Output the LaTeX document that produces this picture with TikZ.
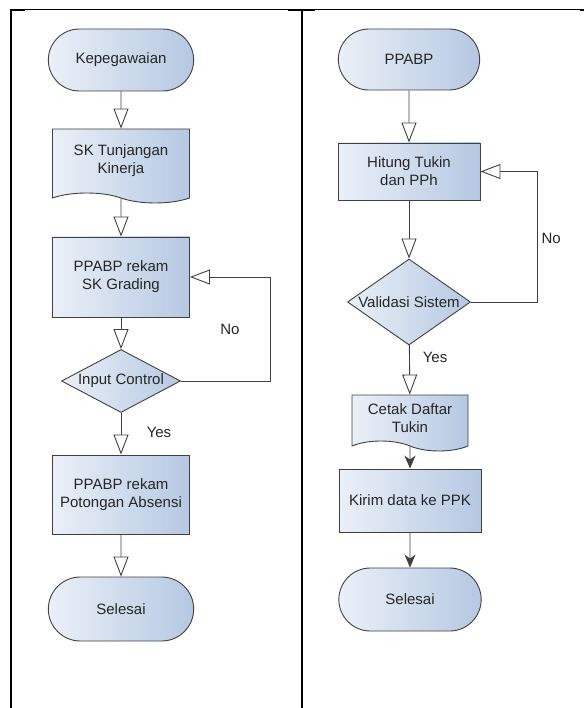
\documentclass[tikz,border=0pt]{standalone}
\usepackage{fontspec}
\setmainfont{Liberation Sans}
\usetikzlibrary{arrows.meta, shapes.geometric, shapes.misc, shapes.symbols, calc}
\definecolor{boxleft}{HTML}{EBF0F8}
\definecolor{boxright}{HTML}{B5C8E2}
\definecolor{edge}{HTML}{404040}
\tikzstyle{terminal} = [%
					rounded rectangle,
					draw = edge, line width = 0.9pt,
					left color = boxleft, right color = boxright,
					minimum width = 152pt, minimum height = 62pt
					]
\tikzstyle{process} = [%
					rectangle,
					draw = edge, line width = 0.9pt,
					left color = boxleft, right color = boxright,
					minimum width = 137pt, minimum height = 80pt,
					align = center
					]
\tikzstyle{decision} = [%
					diamond,
					draw = edge, line width = 0.9pt,
					left color = boxleft, right color = boxright,
					inner sep = 0pt
					]
\tikzstyle{docshape} = [%
					tape, tape bend top = none, tape bend bottom = out and in,
					tape bend height = 10pt,
					draw = edge, line width = 0.9pt,
					left color = boxleft, right color = boxright,
					align = center
					]
\tikzstyle{flow} = [%
					line width = 0.9pt, draw = edge,
					-{Triangle[length=20pt, width=15pt, fill=white]}
					]
\tikzstyle{flowb} = [%
					line width = 0.9pt, draw = edge,
					-{Stealth[length=13pt, width=11pt, inset=4pt]}
					]

\begin{document}
\begin{tikzpicture}[x=1pt, y=-1pt, font=\fontsize{15}{18}\selectfont, text=black!85]
		
		\useasboundingbox (0,0) rectangle (584,708);
		
		% Frame
		\draw[line width=1pt] (10,10) -- (584,10);
		\draw[line width=2pt] (10,10.5) -- (25,10.5);
		\draw[line width=2pt] (288,10.5) -- (315,10.5);
		\draw[line width=2pt] (580,10.5) -- (584,10.5);
		\draw[line width=2pt] (11,10) -- (11,708);
		\draw[line width=2pt] (302,10) -- (302,708);
		
		% Nodes
		%% Kepegawaian
		\node[terminal] at (121,60) (kep) {Kepegawaian};
		\node[docshape, minimum width=137pt, minimum height=74pt] at (121,161) (sk) {SK Tunjangan\\Kinerja};
		\node[process] at (121,277) (grad) {PPABP rekam\\SK Grading};
		\node[decision, aspect=1.9, minimum width=119pt, minimum height=63pt] at (121,381) (ic) {Input Control};
		\node[process, minimum height=79pt] at (121,494.5) (pot) {PPABP rekam\\Potongan Absensi};
		\node[terminal, minimum height=64pt] at (121,609) (sel1) {Selesai};
		%% PPABP
		\node[terminal, minimum width=148pt, minimum height=61pt] at (409,59.5) (ppabp) {PPABP};
		\node[process, minimum width=142pt, minimum height=57pt] at (409,171.5) (hit) {Hitung Tukin\\dan PPh};
		\node[decision, aspect=1.43, minimum width=123pt, minimum height=86pt] at (409,302) (val) {Validasi Sistem};
		\node[docshape, minimum width=116pt, minimum height=56pt] at (410,418) (cetak) {Cetak Daftar\\Tukin};
		\node[process, minimum width=142pt, minimum height=63pt] at (410,500.5) (kirim) {Kirim data ke PPK};
		\node[terminal, minimum width=149pt, minimum height=63pt] at (410,599.5) (sel2) {Selesai};
		
		% Labels
		\node at (230,329) (no1) {No};
		\node at (159,432) (yes1) {Yes};
		\node[anchor=west] at (538,238) (no2) {No};
		\node at (435,357) (yes2) {Yes};
		
		% Arrows
		\draw[flow] (kep) -- (sk);
		\draw[flow] (sk) -- (grad);
		\draw[flow] (grad) -- (ic);
		\draw[flow] (ic) -- (pot);
		\draw[flow] (pot) -- (sel1);
		\draw[flow] (ic.east) -- ++(89,0) |- (grad.east);
		
		\draw[flow] (ppabp) -- (hit);
		\draw[flow] (hit) -- (val);
		\draw[flow] (val) -- (cetak);
		\draw[flowb] (cetak) -- (kirim);
		\draw[flowb] (kirim) -- (sel2);
		\draw[flow] (val.east) -- ++(66,0) |- (hit.east);
	\end{tikzpicture}
\end{document}
